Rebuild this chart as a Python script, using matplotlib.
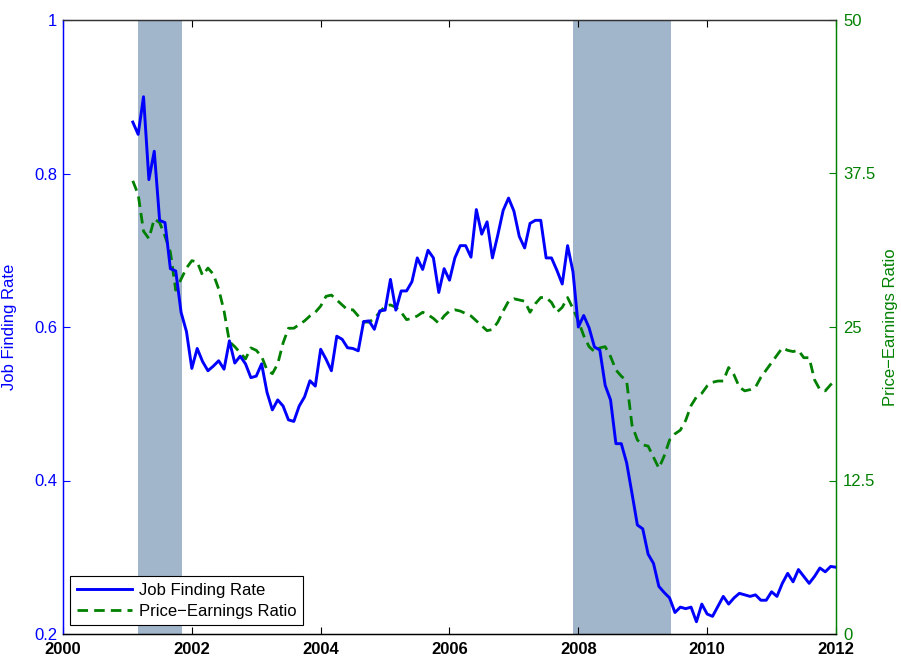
import numpy as np
import matplotlib
matplotlib.use("Agg")
import matplotlib.pyplot as plt

plt.rcParams['font.family'] = ['Liberation Sans', 'DejaVu Sans']

# monthly observations, Feb 2001 .. Jan 2012
start_year = 2001 + 1 / 12
job_finding = [
    0.867, 0.851, 0.900, 0.792, 0.829, 0.739, 0.736, 0.676, 0.673, 0.619,
    0.594, 0.546, 0.572, 0.555, 0.543, 0.549, 0.556, 0.545, 0.582, 0.553,
    0.562, 0.552, 0.534, 0.536, 0.552, 0.515, 0.492, 0.505, 0.497, 0.479,
    0.477, 0.497, 0.509, 0.530, 0.523, 0.571, 0.558, 0.543, 0.588, 0.584,
    0.573, 0.572, 0.569, 0.607, 0.608, 0.597, 0.621, 0.622, 0.662, 0.622,
    0.647, 0.647, 0.659, 0.690, 0.675, 0.700, 0.690, 0.645, 0.676, 0.661,
    0.690, 0.706, 0.706, 0.691, 0.753, 0.721, 0.737, 0.690, 0.720, 0.752,
    0.768, 0.751, 0.718, 0.703, 0.735, 0.739, 0.739, 0.690, 0.690, 0.674,
    0.656, 0.706, 0.672, 0.600, 0.615, 0.599, 0.574, 0.570, 0.524, 0.505,
    0.448, 0.448, 0.423, 0.383, 0.342, 0.337, 0.304, 0.292, 0.262, 0.254,
    0.247, 0.228, 0.235, 0.233, 0.235, 0.216, 0.239, 0.226, 0.223, 0.236,
    0.249, 0.239, 0.247, 0.253, 0.251, 0.249, 0.251, 0.244, 0.244, 0.255,
    0.249, 0.266, 0.279, 0.268, 0.284, 0.275, 0.266, 0.275, 0.286, 0.281,
    0.288, 0.287,
]
pe_ratio = [
    36.9, 35.8, 32.8, 32.2, 33.8, 33.5, 32.4, 31.1, 28.0, 28.9,
    29.8, 30.4, 30.3, 29.2, 29.8, 29.3, 28.1, 26.3, 23.8, 23.4,
    22.9, 22.4, 23.3, 23.1, 22.6, 21.5, 21.2, 22.0, 23.7, 24.9,
    24.9, 25.2, 25.5, 25.9, 26.2, 26.7, 27.5, 27.6, 27.2, 26.8,
    26.4, 26.4, 25.9, 25.4, 25.4, 25.7, 26.2, 26.7, 26.8, 26.6,
    26.2, 25.6, 25.7, 25.9, 26.2, 26.0, 25.7, 25.3, 25.9, 26.3,
    26.4, 26.3, 26.1, 25.9, 25.5, 25.1, 24.7, 24.8, 25.4, 26.3,
    27.1, 27.3, 27.2, 27.1, 26.2, 26.9, 27.4, 27.4, 27.0, 26.2,
    26.6, 27.4, 26.5, 25.5, 24.3, 23.4, 23.0, 23.3, 23.4, 22.6,
    21.5, 21.0, 20.6, 17.0, 15.8, 15.4, 15.3, 14.4, 13.5, 14.5,
    15.8, 16.3, 16.6, 17.4, 18.6, 19.3, 19.6, 20.2, 20.5, 20.6,
    20.6, 21.7, 21.1, 20.1, 19.8, 19.9, 20.1, 20.9, 21.5, 22.1,
    22.7, 23.3, 23.1, 23.0, 23.1, 22.5, 22.5, 20.7, 19.9, 19.8,
    20.3, 20.7,
]
recessions = [(2001.17, 2001.85), (2007.92, 2009.44)]
x_ticks = [2000, 2002, 2004, 2006, 2008, 2010, 2012]
left_ticks = [0.2, 0.4, 0.6, 0.8, 1.0]
left_labels = ["0.2", "0.4", "0.6", "0.8", "1"]
right_ticks = [0, 12.5, 25, 37.5, 50]
right_labels = ["0", "12.5", "25", "37.5", "50"]

dates = start_year + np.arange(len(job_finding)) / 12

BLUE = (0, 0, 1)
GREEN = (0, 0.5, 0)
SHADE = '#A1B5CB'

fig = plt.figure(figsize=(9.01, 6.57), dpi=100)
ax = fig.add_axes([63 / 901, 23 / 657, (836 - 63) / 901, (634 - 20) / 657])
ax2 = ax.twinx()

# shading and P/E line live on the lower axes; job finding line on top
for a, b in recessions:
    ax2.axvspan(a, b, color=SHADE, lw=0, zorder=0)

l2, = ax2.plot(dates, pe_ratio, color=GREEN, lw=2.0, ls=(0, (3.8, 2.2)),
               label='Price\u2212Earnings Ratio', zorder=2)
l1, = ax.plot(dates, job_finding, color=BLUE, lw=2.1, label='Job Finding Rate', zorder=3)

ax.set_xlim(2000, 2012)
ax.set_ylim(0.2, 1.0)
ax2.set_ylim(0, 50)

ax.set_xticks(x_ticks)
ax.set_xticklabels([str(t) for t in x_ticks], fontweight='bold')
ax.set_yticks(left_ticks)
ax.set_yticklabels(left_labels)
ax2.set_yticks(right_ticks)
ax2.set_yticklabels(right_labels)

fs = 12
ax.tick_params(axis='x', direction='in', top=True, length=5, labelsize=fs,
               colors='black', width=0.8, pad=6)
ax.tick_params(axis='y', direction='in', length=5, labelsize=fs,
               colors=BLUE, width=0.8, pad=4)
ax2.tick_params(axis='y', direction='in', length=5, labelsize=fs,
                colors=GREEN, width=0.8, pad=5)
ax2.tick_params(axis='x', top=False, bottom=False, labelbottom=False)

ax.set_ylabel('Job Finding Rate', color=BLUE, fontsize=fs)
ax.yaxis.set_label_coords(-0.06, 0.5)
ax2.set_ylabel('Price\u2212Earnings Ratio', color=GREEN, fontsize=fs)
ax2.yaxis.set_label_coords(1.061, 0.5)

for a in (ax, ax2):
    a.spines['left'].set_color(BLUE)
    a.spines['right'].set_color(GREEN)
    a.spines['top'].set_color('#333333')
    a.spines['bottom'].set_color('black')
    for s in a.spines.values():
        s.set_linewidth(0.9)

ax.patch.set_visible(False)
ax.set_zorder(ax2.get_zorder() + 1)

leg = ax.legend([l1, l2], ['Job Finding Rate', 'Price\u2212Earnings Ratio'],
                loc='lower left', bbox_to_anchor=(0.0095, 0.014), fontsize=fs,
                fancybox=False, framealpha=1, edgecolor='black',
                handlelength=3.3, borderpad=0.4, labelspacing=0.35,
                handletextpad=0.4, borderaxespad=0)
leg.get_frame().set_linewidth(0.8)

fig.savefig('out.png', dpi=100)
